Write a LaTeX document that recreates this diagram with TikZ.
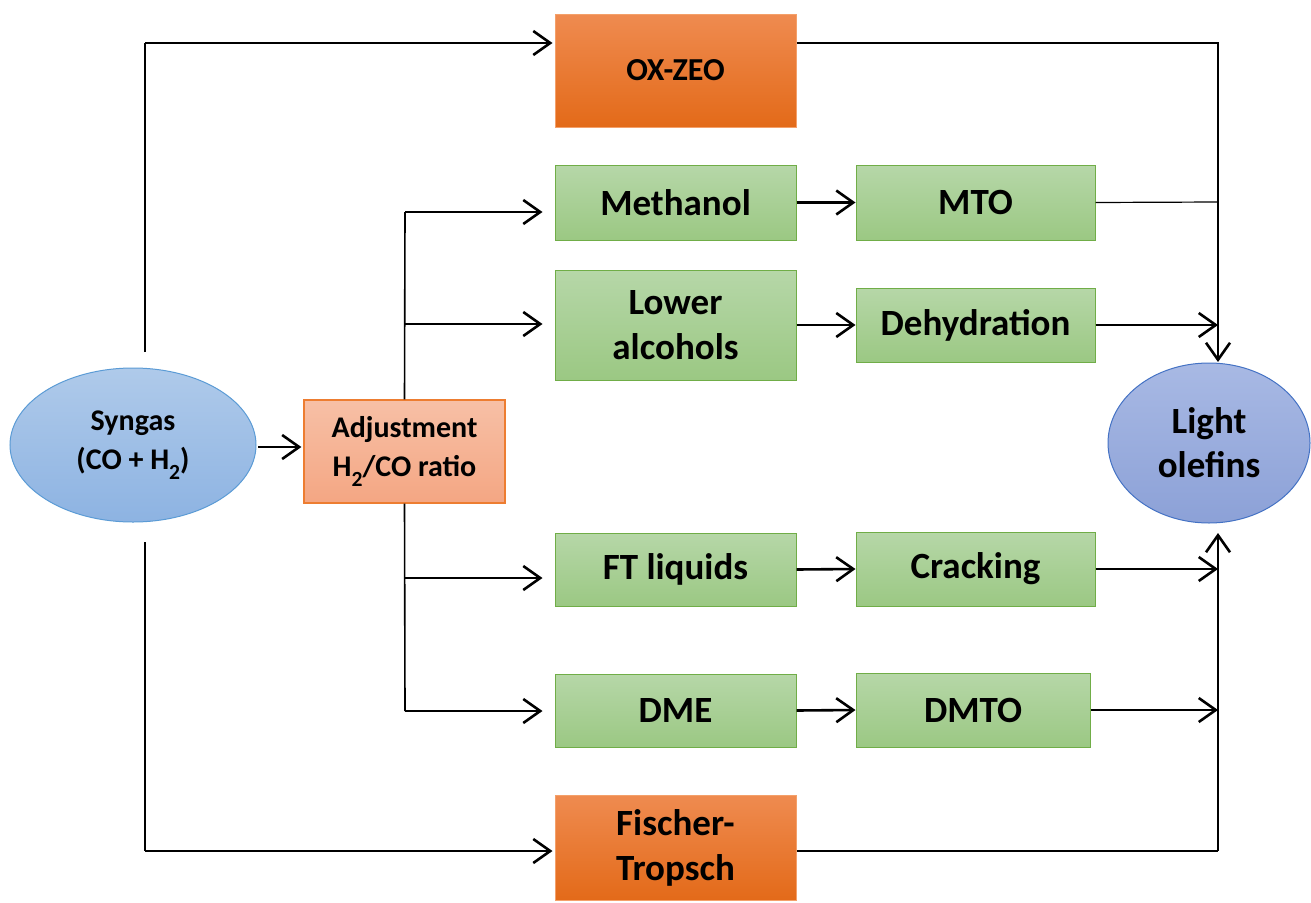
\documentclass[tikz,border=0pt]{standalone}
\usepackage{fontspec}
\usepackage{graphicx}
\setmainfont{Carlito}
\usetikzlibrary{arrows.meta,calc,shapes.geometric}
\definecolor{grnT}{HTML}{B6D7A8}
\definecolor{grnB}{HTML}{9BC883}
\definecolor{grnD}{HTML}{70AD47}
\definecolor{orT}{HTML}{EF8B50}
\definecolor{orM}{HTML}{F47D2A}
\definecolor{orB}{HTML}{E36A19}
\definecolor{orD}{HTML}{F4A06A}
\definecolor{adT}{HTML}{F7C0A6}
\definecolor{adB}{HTML}{F4A683}
\definecolor{adD}{HTML}{ED7D31}
\definecolor{syT}{HTML}{AFCAEA}
\definecolor{syB}{HTML}{8DB3E2}
\definecolor{syD}{HTML}{5B9BD5}
\definecolor{loT}{HTML}{A8B9E4}
\definecolor{loB}{HTML}{8CA1D7}
\definecolor{loD}{HTML}{4472C4}
\newcommand\mysub[1]{\raisebox{-0.7ex}{\scalebox{0.72}{#1}}}
\begin{document}
\begin{tikzpicture}[x=1pt,y=-1pt,
  box/.style={rectangle, inner sep=0pt, align=center,
    font=\fontsize{37}{45}\selectfont\bfseries},
  greenbox/.style={box, draw=grnD, line width=1pt, top color=grnT, bottom color=grnB,
    minimum width=241pt, minimum height=75pt},
  orangebox/.style={box, draw=orD, line width=1pt, top color=orT, middle color=orM, bottom color=orB,
    minimum width=241pt},
  arr/.style={line width=2.6pt, -{Straight Barb[length=17pt,width=24pt,line width=2.6pt]}},
  bus/.style={line width=1.6pt},
  thinl/.style={line width=1.2pt}]
\useasboundingbox (0,0) rectangle (1311,902);

% nodes
\node[ellipse, draw=syD, line width=1pt, top color=syT, bottom color=syB,
  minimum width=246pt, minimum height=154pt, inner sep=0pt, align=center,
  font=\fontsize{30}{39}\selectfont\bfseries] (Syn) at (133,445) {Syngas\\(CO + H\mysub{2})};
\node[box, draw=adD, line width=1.2pt, top color=adT, bottom color=adB,
  minimum width=201pt, minimum height=103pt,
  font=\fontsize{30}{39}\selectfont\bfseries] (Adj) at (404.5,451.5) {Adjustment\\H\mysub{2}/CO ratio};
\node[orangebox, minimum height=113pt, font=\fontsize{32}{39}\selectfont\bfseries] (OX) at (675.5,70.5) {OX-ZEO};
\node[greenbox] (Meth) at (675.5,202.5) {Methanol};
\node[greenbox, minimum width=239pt] (MTO) at (975.5,202.5) {MTO};
\node[greenbox, minimum height=110pt] (Low) at (675.5,325) {Lower\\alcohols};
\node[greenbox, minimum width=239pt, minimum height=74pt] (Dehyd) at (975.5,325) {Dehydration};
\node[greenbox, minimum height=73pt] (FTl) at (675.5,569.5) {FT liquids};
\node[greenbox, minimum width=239pt, minimum height=74pt] (Crack) at (975.5,569) {Cracking};
\node[greenbox, minimum height=73pt] (DME) at (675.5,710.5) {DME};
\node[greenbox, minimum width=234pt, minimum height=74pt] (DMTO) at (973,710) {DMTO};
\node[orangebox, minimum height=105pt] (FT) at (675.5,847.5) {Fischer-\\Tropsch};
\node[ellipse, draw=loD, line width=1pt, top color=loT, bottom color=loB,
  minimum width=202pt, minimum height=160pt, inner sep=0pt, align=center,
  font=\fontsize{37}{44}\selectfont\bfseries] (Light) at (1209,443) {Light\\olefins};

% syngas branches
\coordinate (s1) at (145,352);
\coordinate (s1t) at (145,43);
\coordinate (s2) at (145,542);
\coordinate (s2b) at (145,851);
\draw[bus] (s1) -- (s1t);
\draw[arr] (s1t) -- ([xshift=-2pt]s1t -| OX.west);
\draw[bus] (s2) -- (s2b);
\draw[arr] (s2b) -- ([xshift=-2pt]s2b -| FT.west);
\coordinate (sa) at (258,447);
\draw[arr] (sa) -- ([xshift=-2pt]sa -| Adj.west);

% adjustment branches
\coordinate (b1) at (405,212);
\coordinate (b2) at (405,324);
\coordinate (b3) at (405,578);
\coordinate (b4) at (405,711);
\draw[bus] (Adj.north) -- (b1);
\draw[bus] (Adj.south) -- (b4);
\draw[arr] (b1) -- ([xshift=-12pt]b1 -| Meth.west);
\draw[arr] (b2) -- ([xshift=-12pt]b2 -| Low.west);
\draw[arr] (b3) -- ([xshift=-12pt]b3 -| FTl.west);
\draw[arr] (b4) -- ([xshift=-12pt]b4 -| DME.west);

% middle arrows
\draw[arr] (Meth.east) -- (MTO.west);
\draw[arr] (Low.east |- Dehyd.east) -- (Dehyd.west);
\draw[arr] (FTl.east) -- (Crack.west);
\draw[arr] (DME.east) -- (DMTO.west);

% right bus
\coordinate (rt) at (1218,43);
\coordinate (rm) at (1218,202);
\coordinate (rb) at (1218,851);
\draw[thinl] (rt -| OX.east) -- (rt) -- (rm);
\draw[thinl] (MTO.east) -- (rm);
\draw[arr] (rm) -- (1218,362);
\draw[arr] (Dehyd.east) -- (Dehyd.east -| rm);
\draw[bus] (rb -| FT.east) -- (rb);
\draw[arr] (rb) -- (1218,533);
\draw[arr] (Crack.east) -- (Crack.east -| rb);
\draw[arr] (DMTO.east) -- (DMTO.east -| rb);
\end{tikzpicture}
\end{document}
